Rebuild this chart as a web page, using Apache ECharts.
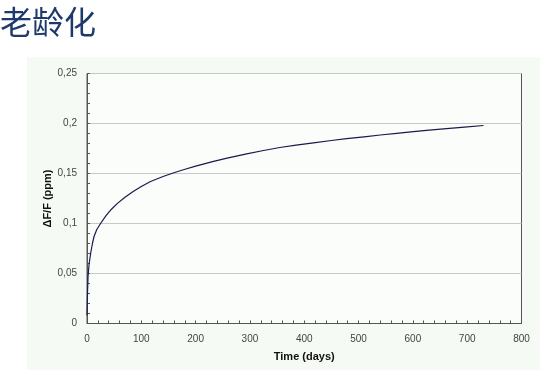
<!DOCTYPE html>
<html><head><meta charset="utf-8">
<script src="https://cdn.jsdelivr.net/npm/echarts@6/dist/echarts.min.js"></script>
<style>html,body{margin:0;padding:0;background:#fff}#c{width:540px;height:370px}</style>
</head><body><div id="c"></div>
<script>
const title = '老龄化';
const xAxisName = 'Time (days)';
const yAxisName = 'ΔF/F (ppm)';
const days = [0, 0.5, 1, 2, 4, 7, 10, 13, 18, 25, 35, 45, 56, 70, 85, 100, 117, 140, 160, 179, 200, 233, 260, 294, 325, 355, 385, 417, 450, 478, 510, 540, 570, 601, 630, 662, 695, 730];
const drift = [0.008, 0.02, 0.032, 0.048, 0.06, 0.071, 0.08, 0.087, 0.094, 0.1, 0.1079, 0.1143, 0.1201, 0.1263, 0.132, 0.137, 0.142, 0.147, 0.1508, 0.154, 0.1574, 0.1621, 0.1656, 0.1696, 0.173, 0.176, 0.1783, 0.1807, 0.183, 0.1848, 0.1867, 0.1885, 0.1901, 0.1918, 0.1933, 0.1949, 0.1964, 0.198];

const chart = echarts.init(document.getElementById('c'), null, {renderer: 'canvas'});
const labelStyle = {color: '#444', fontSize: 10, fontFamily: 'Liberation Sans, Arial, sans-serif'};
chart.setOption({
  animation: false,
  backgroundColor: '#fff',
  graphic: [
    {type: 'rect', z: -10, shape: {x: 27, y: 57, width: 513, height: 313}, style: {fill: '#f6faf4'}},
    {type: 'text', left: 0, top: 6, style: {text: title, fill: '#1d3a6c', font: '32px "Noto Sans CJK SC", sans-serif'}}
  ],
  grid: {left: 87, right: 18.5, top: 73.5, bottom: 46.5, show: true, backgroundColor: '#fbfdfa', borderColor: '#555', borderWidth: 1},
  xAxis: {
    type: 'value', min: 0, max: 800, interval: 100,
    name: xAxisName, nameLocation: 'middle', nameGap: 28, nameMoveOverlap: false,
    nameTextStyle: {color: '#111', fontSize: 11, fontWeight: 'bold', fontFamily: 'Liberation Sans, Arial, sans-serif'},
    axisLine: {lineStyle: {color: '#555', width: 1}},
    axisTick: {show: true, inside: true, length: 3, lineStyle: {color: '#555'}},
    minorTick: {show: true, splitNumber: 5, length: 3, lineStyle: {color: '#555'}},
    axisLabel: Object.assign({margin: 11}, labelStyle),
    splitLine: {show: false}
  },
  yAxis: {
    type: 'value', min: 0, max: 0.25, interval: 0.05,
    name: yAxisName, nameLocation: 'middle', nameGap: 34, nameMoveOverlap: false,
    nameTextStyle: {color: '#111', fontSize: 11, fontWeight: 'bold', fontFamily: 'Liberation Sans, Arial, sans-serif'},
    axisLine: {lineStyle: {color: '#555', width: 1}},
    axisTick: {show: true, inside: true, length: 3, lineStyle: {color: '#555'}},
    minorTick: {show: true, splitNumber: 5, length: 3, lineStyle: {color: '#555'}},
    axisLabel: Object.assign({margin: 10, formatter: v => String(+v.toFixed(2)).replace('.', ',')}, labelStyle),
    splitLine: {show: true, lineStyle: {color: '#c8c8c8', width: 1}}
  },
  series: [{
    type: 'line', showSymbol: false, smooth: false,
    data: days.map((d, i) => [d, drift[i]]),
    lineStyle: {color: '#1a1a4a', width: 1.2}
  }]
});
</script></body></html>
